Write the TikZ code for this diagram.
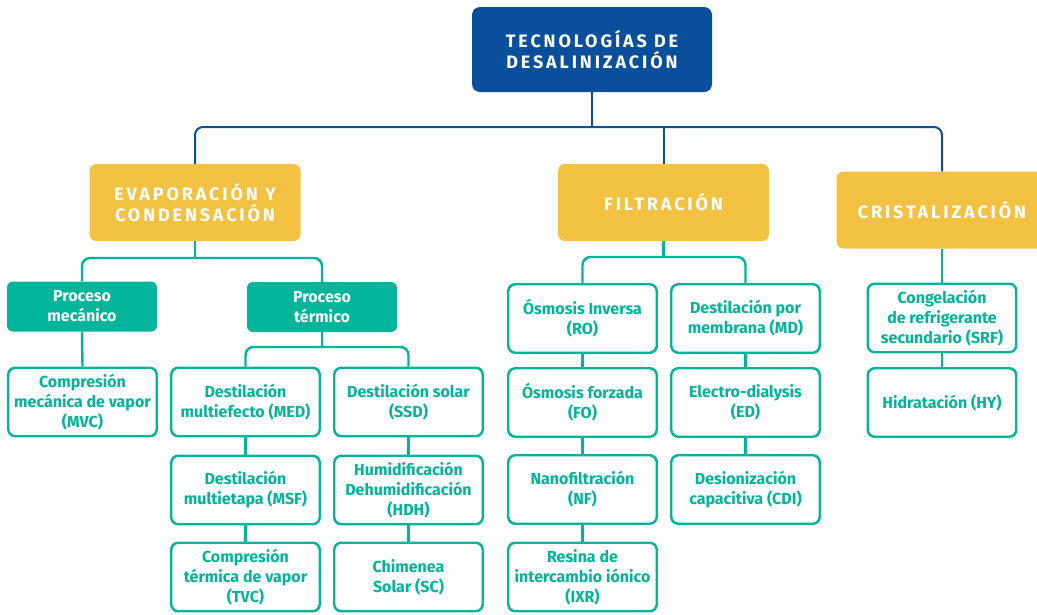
\documentclass[tikz,border=0pt]{standalone}
\usepackage{fontspec}
\setsansfont{Fira Sans}
\definecolor{deskblue}{HTML}{0A4F9C}
\definecolor{deskyellow}{HTML}{F4C242}
\definecolor{deskteal}{HTML}{00B59A}
\newcommand{\hdrfont}{\sffamily\bfseries\addfontfeature{LetterSpace=16}\fontsize{18}{21}\selectfont}
\newcommand{\techfont}{\sffamily\bfseries\fontsize{16}{20}\selectfont}
\tikzset{
  rootbox/.style={fill=deskblue, rounded corners=8pt, minimum width=240pt, minimum height=85pt, text=white, font=\hdrfont, align=center, inner sep=0pt},
  catbox/.style={fill=deskyellow, rounded corners=7pt, minimum width=211pt, minimum height=77pt, text=white, font=\hdrfont, align=center, inner sep=0pt},
  procbox/.style={fill=deskteal, rounded corners=6pt, minimum width=150pt, minimum height=50pt, text=white, font=\techfont, align=center, inner sep=0pt},
  techbox/.style={draw=deskteal, line width=2.4pt, fill=white, rounded corners=7pt, minimum width=148.5pt, minimum height=68.5pt, text=deskteal, font=\techfont, align=center, inner sep=0pt},
  blueline/.style={draw=deskblue, line width=2pt},
  tealline/.style={draw=deskteal, line width=2.4pt}
}
\begin{document}
\begin{tikzpicture}[x=1pt, y=-1pt]
\useasboundingbox (0,0) rectangle (1037,614);
\clip (0,0) rectangle (1037,614);
\node[rootbox] (root) at (592,49.5) {TECNOLOGÍAS DE\\DESALINIZACIÓN};
\node[catbox] (evap) at (195,202.5) {EVAPORACIÓN Y\\CONDENSACIÓN};
\node[catbox] (filt) at (663.5,202.5) {FILTRACIÓN};
\node[catbox] (cris) at (942,210) {CRISTALIZACIÓN};
\node[procbox] (mec) at (82,306.5) {Proceso\\mecánico};
\node[procbox] (ter) at (322,307) {Proceso\\térmico};
\node[techbox] (mvc) at (82.5,402) {Compresión\\mecánica de vapor\\(MVC)};
\node[techbox] (med) at (245.5,402) {Destilación\\multiefecto (MED)};
\node[techbox] (msf) at (245.5,490) {Destilación\\multietapa (MSF)};
\node[techbox] (tvc) at (245.5,577) {Compresión\\térmica de vapor\\(TVC)};
\node[techbox] (ssd) at (408.5,402) {Destilación solar\\(SSD)};
\node[techbox] (hdh) at (408.5,490) {Humidificación\\Dehumidificación\\(HDH)};
\node[techbox] (sc) at (408.5,577) {Chimenea\\Solar (SC)};
\node[techbox] (ro) at (582.5,318.5) {Ósmosis Inversa\\(RO)};
\node[techbox] (fo) at (582.5,402.5) {Ósmosis forzada\\(FO)};
\node[techbox] (nf) at (582.5,489.5) {Nanofiltración\\(NF)};
\node[techbox] (ixr) at (582.5,577) {Resina de\\intercambio iónico\\(IXR)};
\node[techbox] (md) at (745.5,318.5) {Destilación por\\membrana (MD)};
\node[techbox] (ed) at (745.5,402.5) {Electro-dialysis\\(ED)};
\node[techbox] (cdi) at (745.5,489.5) {Desionización\\capacitiva (CDI)};
\node[techbox] (srf) at (942,318) {Congelación\\de refrigerante\\secundario (SRF)};
\node[techbox] (hy) at (942,402.5) {Hidratación (HY)};
\coordinate (rootj) at (592,127);
\coordinate (evapj) at (195,258);
\coordinate (terj) at (322,347);
\coordinate (filtj) at (663.5,257);
\begin{scope}[on background layer/.try]
\draw[blueline] (root.south) -- (rootj);
\draw[blueline, rounded corners=8pt] (evap.north) |- (rootj) -| (cris.north);
\draw[blueline] (rootj -| filt.north) -- (filt.north);
\draw[tealline] (evap.south) -- (evapj);
\draw[tealline, rounded corners=8pt] (mec.north) |- (evapj) -| (ter.north);
\draw[tealline] (ter.south) -- (terj);
\draw[tealline, rounded corners=8pt] (med.north) |- (terj) -| (ssd.north);
\draw[tealline] (filt.south) -- (filtj);
\draw[tealline, rounded corners=8pt] (ro.north) |- (filtj) -| (md.north);
\draw[tealline] (cris.south) -- (srf.north);
\draw[tealline] (mec.south) -- (mvc.north);
\draw[tealline] (med.south) -- (msf.north);
\draw[tealline] (msf.south) -- (tvc.north);
\draw[tealline] (ssd.south) -- (hdh.north);
\draw[tealline] (hdh.south) -- (sc.north);
\draw[tealline] (ro.south) -- (fo.north);
\draw[tealline] (fo.south) -- (nf.north);
\draw[tealline] (nf.south) -- (ixr.north);
\draw[tealline] (md.south) -- (ed.north);
\draw[tealline] (ed.south) -- (cdi.north);
\draw[tealline] (srf.south) -- (hy.north);
\end{scope}
\end{tikzpicture}
\end{document}
